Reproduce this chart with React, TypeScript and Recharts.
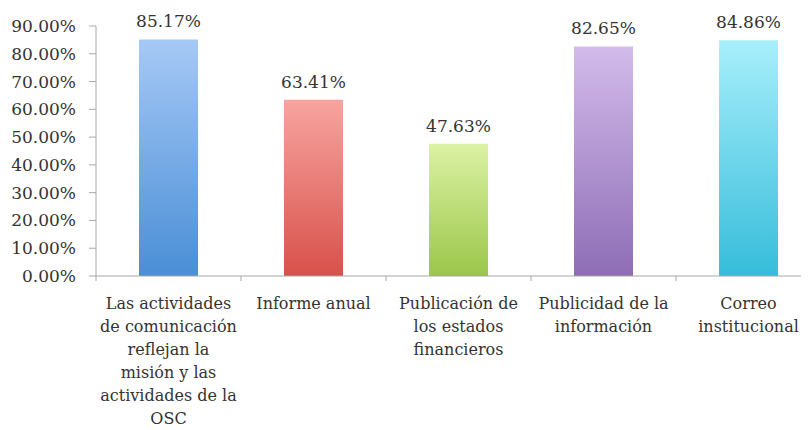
import React from "react";
import { BarChart, Bar, XAxis, YAxis, Cell, LabelList } from "recharts";

const categories = [
  "Las actividades\nde comunicación\nreflejan la\nmisión y las\nactividades de la\nOSC",
  "Informe anual",
  "Publicación de\nlos estados\nfinancieros",
  "Publicidad de la\ninformación",
  "Correo\ninstitucional",
];
const values = [85.17, 63.41, 47.63, 82.65, 84.86];
const yTicks = [0, 10, 20, 30, 40, 50, 60, 70, 80, 90];
const topColors = ["#a6c9f6", "#f8a4a0", "#dcf2a4", "#d3bbeb", "#a8effb"];
const bottomColors = ["#4a8ed6", "#d8514a", "#9bc64a", "#8e6db6", "#36bddb"];

const data = categories.map((c, i) => ({ name: c, value: values[i] }));

const FONT = "'DejaVu Serif', serif";
const AXIS = "#a8a8a8";
const TEXT = "#333333";

const XTick = (props: any) => {
  const { x, y, payload } = props;
  const off = payload.offset || 0;
  const lines = String(payload.value).split("\n");
  return (
    <g>
      <line x1={x - off} y1={y} x2={x - off} y2={y + 5} stroke={AXIS} strokeWidth={1} />
      <text
        x={x}
        y={y + 33}
        textAnchor="middle"
        fontFamily={FONT}
        fontSize={16}
        fill={TEXT}
      >
        {lines.map((l, i) => (
          <tspan key={i} x={x} dy={i === 0 ? 0 : 23}>
            {l}
          </tspan>
        ))}
      </text>
    </g>
  );
};

export default function App() {
  return (
    <div style={{ marginLeft: -8, marginTop: -8, width: 809, height: 430, overflow: "hidden", background: "#fff" }}>
      <BarChart
        width={830}
        height={430}
        data={data}
        margin={{ top: 26, right: 9, bottom: 0, left: 0 }}
        barCategoryGap="30%"
      >
        <defs>
          {topColors.map((c, i) => (
            <linearGradient key={i} id={`g${i}`} x1="0" y1="0" x2="0" y2="1">
              <stop offset="0%" stopColor={c} />
              <stop offset="100%" stopColor={bottomColors[i]} />
            </linearGradient>
          ))}
        </defs>
        <XAxis
          dataKey="name"
          interval={0}
          height={154}
          tickLine={false}
          tickSize={0}
          tickMargin={0}
          axisLine={{ stroke: AXIS }}
          tick={<XTick />}
        />
        <YAxis
          width={96}
          domain={[0, 90]}
          ticks={yTicks}
          interval={0}
          tickSize={7}
          tickMargin={13}
          axisLine={{ stroke: AXIS }}
          tickLine={{ stroke: AXIS }}
          tickFormatter={(v: number) => `${v.toFixed(2)}%`}
          tick={{ fontFamily: FONT, fontSize: 17, fill: TEXT }}
        />
        <Bar dataKey="value" barSize={59} isAnimationActive={false}>
          {data.map((d, i) => (
            <Cell key={i} fill={`url(#g${i})`} />
          ))}
          <LabelList
            dataKey="value"
            position="top"
            offset={12}
            formatter={(v: number) => `${v.toFixed(2)}%`}
            style={{ fontFamily: FONT, fontSize: 17, fill: TEXT }}
          />
        </Bar>
      </BarChart>
    </div>
  );
}
